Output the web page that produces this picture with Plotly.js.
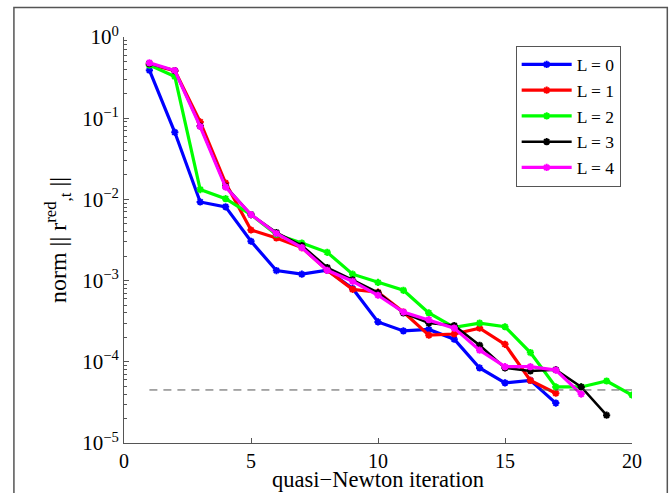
<!DOCTYPE html>
<html>
<head>
<meta charset="utf-8">
<script src="https://cdn.plot.ly/plotly-3.0.1.min.js"></script>
<style>
  html, body { margin: 0; padding: 0; background: #fff; }
  #chart { width: 669px; height: 493px; }
</style>
</head>
<body>
<div id="chart"></div>
<script>
// Data
const seriesNames = ['L = 0', 'L = 1', 'L = 2', 'L = 3', 'L = 4'];
const seriesColors = ['#0000ff', '#ff0000', '#00ff00', '#000000', '#ff00ff'];
const L0 = [0.39, 0.067, 0.0093, 0.0081, 0.00305, 0.00133, 0.0012, 0.00134, 0.0008, 0.00031, 0.00024, 0.00025, 0.00019, 8.4e-5, 5.5e-5, 5.9e-5, 3.1e-5];
const L1 = [0.46, 0.385, 0.09, 0.0159, 0.0042, 0.00335, 0.00255, 0.00134, 0.00078, 0.00072, 0.00041, 0.000213, 0.00022, 0.00026, 0.000164, 5.9e-5, 4.1e-5];
const L2 = [0.45, 0.327, 0.0132, 0.0102, 0.0065, 0.0037, 0.0029, 0.00223, 0.0012, 0.00095, 0.00076, 0.0004, 0.000265, 0.0003, 0.00027, 0.00013, 4.9e-5, 4.9e-5, 5.8e-5, 3.9e-5];
const L3 = [0.47, 0.385, 0.08, 0.0145, 0.0065, 0.0039, 0.0027, 0.00145, 0.00102, 0.00071, 0.0004, 0.0003, 0.00028, 0.00016, 8.4e-5, 7.7e-5, 8.0e-5, 4.9e-5, 2.2e-5];
const L4 = [0.48, 0.387, 0.079, 0.0142, 0.0065, 0.0038, 0.00255, 0.00134, 0.00098, 0.00066, 0.00041, 0.00033, 0.00026, 0.000139, 8.7e-5, 8.7e-5, 7.9e-5, 4.0e-5];
const threshold = 4.5e-5;
const thresholdRange = [1, 20];
const xTickVals = [0, 5, 10, 15, 20];
const yTickVals = [1, 1e-1, 1e-2, 1e-3, 1e-4, 1e-5];
const yTickText = ['10<sup>0</sup>', '10<sup>−1</sup>', '10<sup>−2</sup>', '10<sup>−3</sup>', '10<sup>−4</sup>', '10<sup>−5</sup>'];
const xTitle = 'quasi−Newton iteration';
const yTitle = 'norm || r<sup>red</sup><sub>,t</sub> ||';

const allSeries = [L0, L1, L2, L3, L4];
const FONT = '"Liberation Serif", "Times New Roman", serif';

const traces = allSeries.map((vals, i) => ({
  x: vals.map((_, k) => k + 1),
  y: vals,
  name: seriesNames[i],
  type: 'scatter',
  mode: 'lines+markers',
  line: { color: seriesColors[i], width: i === 3 ? 2.5 : 3.2 },
  marker: { symbol: 'asterisk-open', size: 6, color: seriesColors[i], line: { color: seriesColors[i], width: 2 } }
}));

traces.push({
  x: thresholdRange,
  y: [threshold, threshold],
  type: 'scatter',
  mode: 'lines',
  showlegend: false,
  hoverinfo: 'skip',
  line: { color: '#555555', width: 1, dash: '8px,6px' }
});

const minorVals = [];
for (let e = -5; e < 0; e++) {
  for (let m = 2; m <= 9; m++) minorVals.push(m * Math.pow(10, e));
}

const layout = {
  width: 669,
  height: 493,
  paper_bgcolor: '#ffffff',
  plot_bgcolor: '#ffffff',
  margin: { l: 124, r: 37, t: 37, b: 50 },
  font: { family: FONT, size: 17, color: '#000' },
  showlegend: true,
  legend: {
    x: 0.771, y: 0.979, xanchor: 'left', yanchor: 'top',
    bgcolor: '#ffffff', bordercolor: '#555555', borderwidth: 1,
    font: { family: FONT, size: 17.5, color: '#000' },
    itemwidth: 50,
    tracegroupgap: 0
  },
  xaxis: {
    range: [0, 20],
    tickmode: 'array', tickvals: xTickVals,
    ticks: 'inside', ticklen: 5, tickcolor: '#555',
    showline: true, linecolor: '#555', linewidth: 1,
    showgrid: false, zeroline: false, mirror: false,
    tickfont: { family: FONT, size: 20, color: '#000' }
  },
  yaxis: {
    type: 'log',
    range: [-5, 0],
    tickmode: 'array', tickvals: yTickVals, ticktext: yTickText,
    ticks: 'inside', ticklen: 5, tickcolor: '#555',
    minor: { tickmode: 'array', tickvals: minorVals, ticks: 'inside', ticklen: 3, tickcolor: '#555', showgrid: false },
    showline: true, linecolor: '#555', linewidth: 1,
    showgrid: false, zeroline: false, mirror: false,
    tickfont: { family: FONT, size: 21, color: '#000' },
    title: { text: yTitle, font: { family: FONT, size: 24, color: '#000' }, standoff: 8 }
  },
  annotations: [{
    text: xTitle, xref: 'paper', yref: 'paper', x: 0.5, y: -0.125,
    xanchor: 'center', yanchor: 'bottom', showarrow: false,
    font: { family: FONT, size: 22.5, color: '#000' }
  }],
  shapes: [{
    type: 'rect', xref: 'paper', yref: 'paper',
    x0: -0.2167, x1: 1.0695, y0: -0.3, y1: 1.0726,
    line: { color: '#555555', width: 1.5 }, fillcolor: 'rgba(0,0,0,0)', layer: 'below'
  }]
};

Plotly.newPlot('chart', traces, layout, { displayModeBar: false, staticPlot: true });
</script>
</body>
</html>
